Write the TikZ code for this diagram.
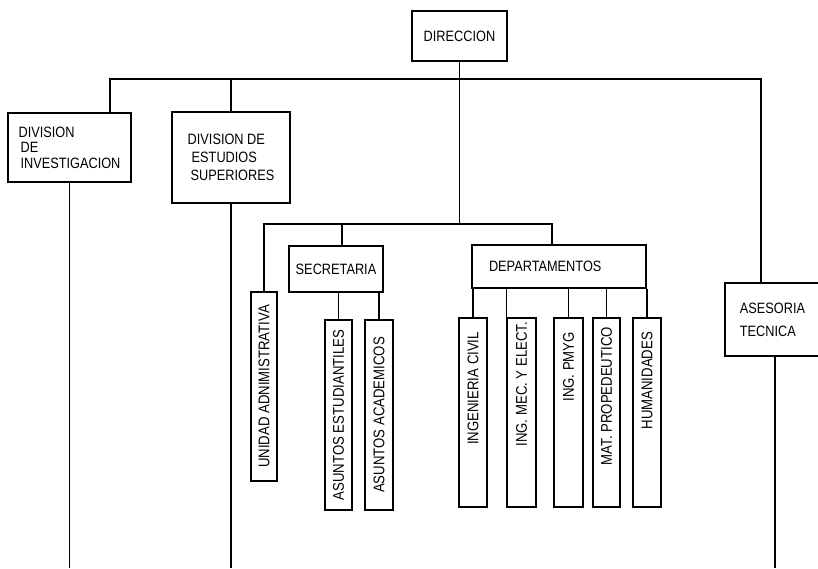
\documentclass[tikz,border=0pt]{standalone}
\usepackage{fontspec}
\setmainfont{Liberation Sans}[FakeStretch=0.85]
\usepackage{graphicx}
\usetikzlibrary{positioning, calc}

\newcommand{\vtext}[2]{\rotatebox{90}{\makebox[#1][r]{#2}}}

\begin{document}
\begin{tikzpicture}[x=1pt, y=-1pt, line width=1.5pt]

    % Define styles
    \tikzstyle{unit} = [rectangle, draw=black, fill=white, inner sep=0pt, align=left, font=\fontsize{15}{15.5}\selectfont]
    \tikzstyle{column} = [rectangle, draw=black, fill=white, inner sep=0pt, minimum height=189, font=\fontsize{15.5}{16}\selectfont]

    \useasboundingbox (0,0) rectangle (818,568);

    % Nodes
    \node (dir) [unit, minimum width=95, minimum height=50] at (459.5,36) {DIRECCION};
    \node (divinv) [unit, minimum width=123, minimum height=69] at (69.5,147.5) {DIVISION\\\hspace{2pt}DE\\\hspace{2pt}INVESTIGACION};
    \node (divest) [unit, minimum width=118, minimum height=91, font=\fontsize{15}{18}\selectfont] at (231,157.5) {DIVISION DE\\\hspace{4pt}ESTUDIOS\\\hspace{3pt}SUPERIORES};
    \node (asesoria) [unit, minimum width=95, minimum height=73, font=\fontsize{15}{23}\selectfont] at (772.5,319.5) {ASESORIA\\TECNICA};
    \node (secre) [unit, minimum width=94, minimum height=46] at (336,269) {SECRETARIA};
    \node (deptos) [unit, minimum height=43, text width=140, inner xsep=17] at (559,266.5) {DEPARTAMENTOS};

    \node (unidad) [column, minimum width=26] at (264,386.5) {\rotatebox{90}{UNIDAD ADNIMISTRATIVA}};
    \node (asest) [column, minimum width=27, minimum height=190] at (338.5,415) {\rotatebox{90}{ASUNTOS ESTUDIANTILES}};
    \node (asaca) [column, minimum width=28, minimum height=190] at (379,415) {\rotatebox{90}{ASUNTOS ACADEMICOS}};

    \node (ingcivil) [column, minimum width=28] at (473,412.5) {\vtext{161pt}{INGENIERIA CIVIL}};
    \node (ingmec) [column, minimum width=29] at (521.5,412.5) {\vtext{181pt}{ING. MEC. Y ELECT.}};
    \node (ingpmyg) [column, minimum width=29] at (568.5,412.5) {\vtext{161pt}{ING. PMYG}};
    \node (matprop) [column, minimum width=27] at (606.5,412.5) {\vtext{171pt}{MAT. PROPEDEUTICO}};
    \node (human) [column, minimum width=28] at (647,412.5) {\vtext{161pt}{HUMANIDADES}};

    \coordinate (bus) at (459.5,79);
    \coordinate (lev2) at (459.5,224);
    \coordinate (foot) at (0,568);

    % Lines
    \draw ([xshift=40.5]divinv.north) |- (bus) -| ([xshift=-11.5]asesoria.north);
    \draw (divest.north) -- (divest.north |- bus);
    \draw (dir.south) -- (lev2);
    \draw (unidad.north) |- (lev2) -| ([xshift=-7]deptos.north);
    \draw ([xshift=6]secre.north) coordinate (s) -- (s |- lev2);
    \draw (asest.north) -- (asest.north |- secre.south);
    \draw (asaca.north) -- (asaca.north |- secre.south);
    \foreach \d in {ingcivil, ingpmyg, matprop, human}
        \draw (\d.north) -- (\d.north |- deptos.south);
    \draw (ingmec.north west) -- (ingmec.north west |- deptos.south);
    \draw (divinv.south) -- (divinv.south |- foot);
    \draw (divest.south) -- (divest.south |- foot);
    \draw ([xshift=2.5]asesoria.south) coordinate (a) -- (a |- foot);

\end{tikzpicture}
\end{document}
